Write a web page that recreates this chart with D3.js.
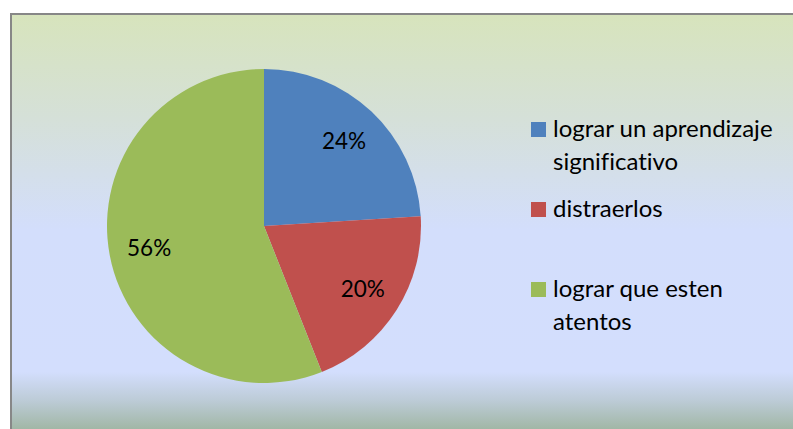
<!DOCTYPE html>
<html>
<head>
<meta charset="utf-8">
<script src="https://cdn.jsdelivr.net/npm/d3@7"></script>
<style>
  html, body { margin: 0; padding: 0; background: #fff; }
  svg text { font-family: Lato, "Open Sans", sans-serif; fill: #000; font-variant-ligatures: none; }
</style>
</head>
<body>
<div id="chart"></div>
<script>
//Chart data
var categories = ["lograr un aprendizaje significativo", "distraerlos", "lograr que esten atentos"];
var values = [24, 20, 56];
var legendLines = [["lograr un aprendizaje", "significativo"], ["distraerlos"], ["lograr que esten", "atentos"]];
var colors = ["#4f81bd", "#c0504d", "#9bbb59"];

var w = 793, h = 429;

var svg = d3.select("#chart").append("svg")
	.attr("width", w)
	.attr("height", h);

//Background gradient (green on top, lavender in middle, grey-green at the bottom)
var defs = svg.append("defs");
var grad = defs.append("linearGradient").attr("id", "bg-grad")
	.attr("x1", 0).attr("y1", 0).attr("x2", 0).attr("y2", 1);
grad.append("stop").attr("offset", "0%").attr("stop-color", "#d7e4bc");
grad.append("stop").attr("offset", "25%").attr("stop-color", "#d5e0d8");
grad.append("stop").attr("offset", "52%").attr("stop-color", "#d3defc");
grad.append("stop").attr("offset", "86%").attr("stop-color", "#d3defd");
grad.append("stop").attr("offset", "93%").attr("stop-color", "#bccbd6");
grad.append("stop").attr("offset", "100%").attr("stop-color", "#a0b6a4");

//Frame - runs off the right and bottom of the picture
svg.append("rect")
	.attr("x", 11).attr("y", 14)
	.attr("width", w + 20).attr("height", h - 13)
	.attr("fill", "url(#bg-grad)")
	.attr("stroke", "#878787")
	.attr("stroke-width", 2);

//Pie
var cx = 264, cy = 226, r = 157;
var g = svg.append("g").attr("transform", "translate(" + cx + "," + cy + ")");

var pie = d3.pie().sort(null).value(function(d) { return d; });
var arc = d3.arc().innerRadius(0).outerRadius(r);
var labelArc = d3.arc().innerRadius(r * 0.745).outerRadius(r * 0.745);
var total = d3.sum(values);

var slices = pie(values);

g.selectAll("path.slice")
	.data(slices)
	.enter().append("path")
	.attr("class", "slice")
	.attr("d", arc)
	.attr("fill", function(d, i) { return colors[i]; });

g.selectAll("text.pct")
	.data(slices)
	.enter().append("text")
	.attr("class", "pct")
	.attr("transform", function(d) { return "translate(" + labelArc.centroid(d) + ")"; })
	.attr("text-anchor", "middle")
	.attr("dy", "0.36em")
	.style("font-size", "22.5px")
	.text(function(d) { return Math.round(d.value / total * 100) + "%"; });

//Legend
var legend = svg.append("g").attr("transform", "translate(531,137)");
var item = legend.selectAll("g.item")
	.data(categories)
	.enter().append("g")
	.attr("class", "item")
	.attr("transform", function(d, i) { return "translate(0," + (i * 80) + ")"; });

item.append("rect")
	.attr("x", 0).attr("y", -15)
	.attr("width", 15).attr("height", 15)
	.attr("fill", function(d, i) { return colors[i]; });

item.append("text")
	.style("font-size", "24px")
	.selectAll("tspan")
	.data(function(d, i) { return legendLines[i]; })
	.enter().append("tspan")
	.attr("x", 22)
	.attr("y", function(d, j) { return j * 33; })
	.text(function(d) { return d; });
</script>
</body>
</html>
